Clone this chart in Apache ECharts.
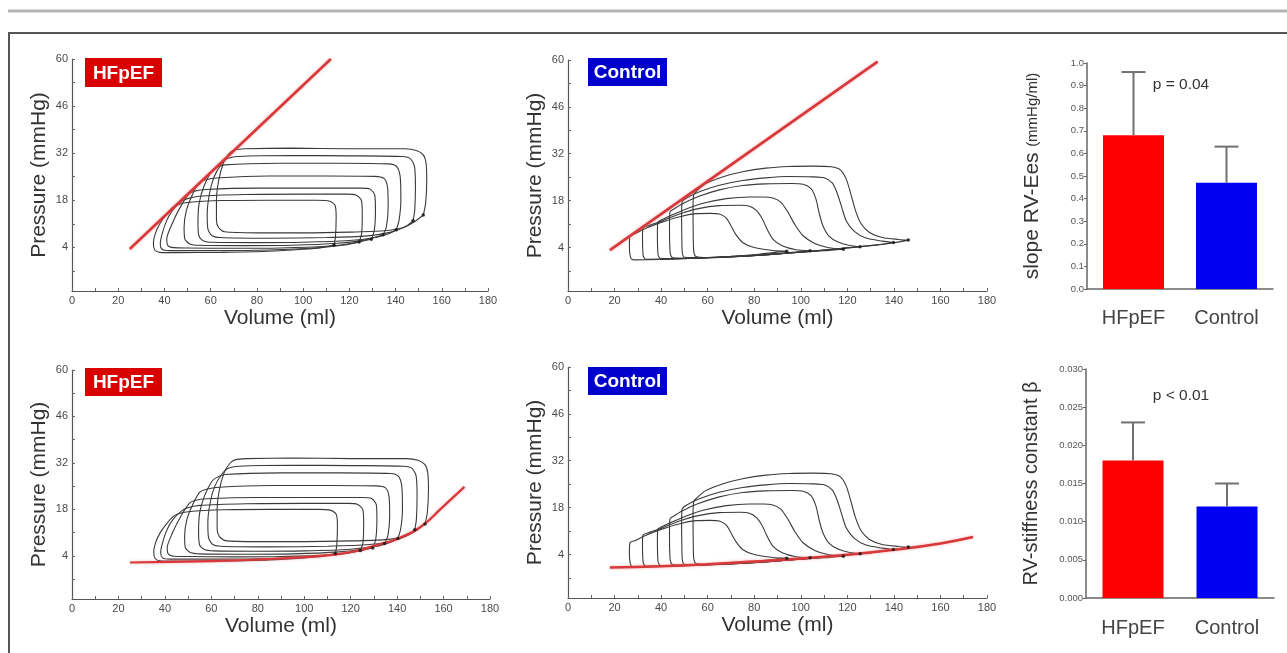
<!DOCTYPE html>
<html><head><meta charset="utf-8">
<script src="https://cdn.jsdelivr.net/npm/echarts@6/dist/echarts.min.js"></script>
<style>html,body{margin:0;padding:0;background:#fff}#c{width:1287px;height:653px}</style>
</head><body><div id="c"></div><script>
// ---------- DATA ----------
const pressureLabelValues = [4, 18, 32, 46, 60];
const pressureTickValues = [-3, 4, 11, 18, 25, 32, 39, 46, 53, 60];

// HFpEF pressure-volume loops [volume ml, pressure mmHg], starting at end-diastole
const hfpefLoop1 = [[152,13.6],[153,17],[153.5,24],[153.2,29],[152,31.5],[149,32.8],[144,33.3],[120,33.3],[95,33.5],[75,33.3],[70.5,33],[68,31.9],[65.5,29],[63.5,24],[62.5,18],[62.5,12],[63.5,9.8],[66,8.6],[80,8.3],[100,8.3],[120,8.5],[135,8.9],[143,9.8],[148,11.5],[152,13.6]];
const hfpefLoop2 = [[147.6,11.9],[148.3,15],[148.6,22],[148.2,28],[146.5,30.3],[143,31],[120,31.2],[95,31.3],[72,31],[67,30.3],[64.5,28.6],[61.5,25],[59.5,20],[58.5,14],[58.8,9.5],[60.5,7.5],[64,6.9],[85,6.7],[110,6.9],[128,7.4],[138,8.5],[144,10],[147.6,11.9]];
const hfpefLoop3 = [[140.3,9.2],[141.5,12],[142.3,18],[142,25],[140.5,28],[137,28.8],[115,29],[90,29],[66,28.5],[62,27.5],[60,26.2],[57,22],[55,17],[54.5,11],[55,7.2],[57,5.9],[61,5.5],[80,5.4],[100,5.5],[120,6],[132,7],[137,8],[140.3,9.2]];
const hfpefLoop4 = [[134.6,7.7],[136,10],[136.8,16],[136.5,22],[135,24.5],[131,25.1],[110,25.2],[85,25.2],[62,24.6],[57.5,24],[55,23.2],[52,19.5],[49.5,15],[48.5,10],[48.8,6.5],[51,5],[55,4.6],[75,4.5],[95,4.6],[115,5.2],[127,6.2],[134.6,7.7]];
const hfpefLoop5 = [[129.5,6.4],[130.8,9],[131.3,15],[131,19.5],[129,21.3],[125,21.6],[105,21.6],[80,21.6],[58,21.2],[53,20.7],[50.6,19.9],[46.5,15.5],[43,10.5],[41,6.5],[41.5,4.5],[44,3.9],[50,3.8],[70,3.7],[90,3.8],[110,4.3],[122,5.3],[129.5,6.4]];
const hfpefLoop6 = [[124.2,5.6],[125.3,8],[125.6,14],[125.2,18],[123,19.5],[119,19.8],[100,19.8],[75,19.7],[55,19.2],[49.5,18.4],[47,17.4],[43.5,15],[41,12],[39,8],[38.2,5],[39,3.4],[42,3],[48,3],[65,3],[85,3.2],[105,3.8],[118,4.7],[124.2,5.6]];
const hfpefLoop7 = [[113.4,4.7],[114,7],[114.3,13],[113.8,16.5],[111.5,17.7],[106,18],[85,18],[65,17.9],[50,17.3],[45.5,16.6],[43.5,15.8],[40.5,13.5],[38,11],[36,8],[35.2,5.2],[35.8,3.2],[38,2.5],[45,2.4],[65,2.5],[85,2.8],[100,3.4],[108,3.9],[113.4,4.7]];

// Control pressure-volume loops
const controlLoop1 = [[146.2,6.2],[142,6.4],[135,7],[129.5,8.5],[126,11],[123.5,15],[121.5,20],[119.5,24.5],[117,27.2],[113,28.1],[105,28.3],[95,28.2],[85,27.7],[75,26.6],[66,25],[59,23],[55.5,21],[54,19.8],[53.7,15],[53.8,8],[54,3],[55,1.3],[60,1],[75,1.4],[90,2.1],[105,2.9],[120,3.9],[132,4.7],[140,5.4],[146.2,6.2]];
const controlLoop2 = [[139.8,5.5],[135,5.9],[128,6.8],[123,8.8],[119.5,12],[117.5,16.2],[115.5,20.5],[113.5,23.3],[110,24.8],[105,25.1],[95,25.2],[85,24.8],[75,24],[65,22.6],[57,20.8],[51,18.8],[49,17.5],[48.8,13],[48.9,7],[49.1,2.5],[50,1.1],[60,1],[75,1.4],[90,2.1],[105,2.9],[120,3.9],[132,4.7],[139.8,5.5]];
const controlLoop3 = [[125.5,4.2],[121,4.6],[116,5.6],[112,7.5],[109.5,10.5],[108,14],[106.5,18.5],[104.5,21.5],[101,22.9],[96,23.1],[85,23],[75,22.5],[65,21.2],[56,19.2],[49,17],[45.5,15.5],[43.8,14.6],[43.6,10],[43.7,5],[44,2],[45,0.9],[55,0.8],[70,1.2],[85,1.8],[100,2.6],[112,3.3],[125.5,4.2]];
const controlLoop4 = [[118.3,3.5],[112,3.9],[106,5.2],[101,7.5],[97.5,10.8],[94.5,14.5],[91.5,17.5],[88,18.8],[84,19.1],[78,19.1],[68,18.6],[58,17.2],[50,15.3],[43,13.2],[40,12.2],[38.6,11.6],[38.4,8],[38.5,4],[38.8,1.5],[40,0.7],[55,0.8],[70,1.2],[85,1.8],[100,2.6],[110,3],[118.3,3.5]];
const controlLoop5 = [[104,3],[98,3.3],[92,4.5],[88,6.5],[85.5,9.5],[83.5,12.5],[81,15],[78,16.3],[74,16.6],[65,16.5],[56,15.6],[47,13.8],[40,11.8],[35,10.6],[32.2,9.8],[32,7],[32.1,3.5],[32.4,1.3],[33.5,0.5],[45,0.6],[60,1],[75,1.5],[90,2.2],[104,3]];
const controlLoop6 = [[94,2.9],[88,3.1],[80,4],[75,5.5],[72,8],[70,10.5],[68,12.8],[65,14],[61,14.2],[55,14.1],[48,13.2],[40,11.5],[33,9.6],[29,8.2],[26.6,7.5],[26.4,5],[26.5,2.5],[27,0.8],[28.5,0.3],[40,0.4],[55,0.8],[70,1.4],[82,2],[94,2.9]];

// End-systolic (ESPVR) and end-diastolic (EDPVR) relations
const hfpefESPVR = [[25,3.5],[112,60]];
const controlESPVR = [[18,3.2],[133,59.5]];
const hfpefEDPVR = [[25,2.0],[60,2.4],[84,3.0],[100,3.6],[112,4.3],[122,5.4],[131,7.2],[141,9.4],[151,13.2],[159,18.3],[169,24.8]];
const controlEDPVR = [[18,0.1],[40,0.5],[60,1.1],[80,1.9],[100,2.8],[120,3.9],[140,5.4],[160,7.3],[174,9.2]];

// Bar charts
const groups = ['HFpEF', 'Control'];
const groupColors = ['#ff0000', '#0000f2'];
const eesMean = [0.68, 0.47];
const eesUpper = [0.96, 0.63];
const betaMean = [0.018, 0.012];
const betaUpper = [0.023, 0.015];

const hfpefLoops = [hfpefLoop1, hfpefLoop2, hfpefLoop3, hfpefLoop4, hfpefLoop5, hfpefLoop6, hfpefLoop7];
const controlLoops = [controlLoop1, controlLoop2, controlLoop3, controlLoop4, controlLoop5, controlLoop6];

// ---------- CHART ----------
const FONT = 'Liberation Sans, Arial, sans-serif';
const chart = echarts.init(document.getElementById('c'), null, {renderer: 'canvas'});

const grids = [
  {left: 72, top: 59, width: 416, height: 232},
  {left: 568, top: 60, width: 419, height: 231},
  {left: 1087, top: 63, width: 186, height: 226},
  {left: 72, top: 370, width: 418, height: 229},
  {left: 568, top: 367, width: 419, height: 231},
  {left: 1086, top: 369, width: 188, height: 229}
];

function pvX(gi) {
  return {
    type: 'value', gridIndex: gi, min: 0, max: 180, interval: 10,
    name: 'Volume (ml)', nameLocation: 'middle', nameGap: 17,
    nameTextStyle: {fontSize: 21, color: '#333', fontFamily: FONT},
    axisLine: {onZero: false, lineStyle: {color: '#555', width: 1.2}},
    axisTick: {inside: true, length: 3, lineStyle: {color: '#666'}},
    axisLabel: {fontSize: 11, color: '#4a4a4a', fontFamily: FONT, margin: 4,
      formatter: v => (v % 20 === 0 ? String(v) : '')},
    splitLine: {show: false}
  };
}
function pvY(gi) {
  return {
    type: 'value', gridIndex: gi, min: -9, max: 60,
    name: 'Pressure (mmHg)', nameLocation: 'middle', nameGap: 22,
    nameTextStyle: {fontSize: 21, color: '#333', fontFamily: FONT},
    axisLine: {show: true, onZero: false, lineStyle: {color: '#555', width: 1.2}},
    axisTick: {show: true, inside: true, length: 3, lineStyle: {color: '#666'}, customValues: pressureTickValues},
    axisLabel: {fontSize: 11, color: '#4a4a4a', fontFamily: FONT, margin: 4, customValues: pressureLabelValues},
    splitLine: {show: false}
  };
}
function barX(gi, margin) {
  return {
    type: 'category', gridIndex: gi, data: groups,
    axisLine: {lineStyle: {color: '#666', width: 1.5}},
    axisTick: {alignWithLabel: true, length: 4, lineStyle: {color: '#666'}},
    axisLabel: {fontSize: 20, color: '#444', fontFamily: FONT, margin: margin}
  };
}
function barY(gi, max, interval, digits, name, gap) {
  return {
    type: 'value', gridIndex: gi, min: 0, max: max, interval: interval,
    name: name, nameLocation: 'middle', nameGap: gap,
    nameTextStyle: {fontSize: 20, color: '#333', fontFamily: FONT,
      rich: {a: {fontSize: 21, color: '#333', fontFamily: FONT}, b: {fontSize: 15, color: '#333', fontFamily: FONT}}},
    axisLine: {show: true, lineStyle: {color: '#666', width: 1.5}},
    axisTick: {show: true, length: 3, lineStyle: {color: '#666'}},
    axisLabel: {fontSize: 9.5, color: '#555', fontFamily: FONT, margin: 3, formatter: v => v.toFixed(digits)},
    splitLine: {show: false}
  };
}

const series = [];
function addLoops(loops, xi) {
  loops.forEach(loop => series.push({
    type: 'line', xAxisIndex: xi, yAxisIndex: xi, data: loop, showSymbol: false, smooth: 0.25,
    lineStyle: {color: '#3a3a3a', width: 1.1}, z: 2, silent: true
  }));
  series.push({
    type: 'scatter', xAxisIndex: xi, yAxisIndex: xi, data: loops.map(l => l[0]),
    symbolSize: 3.5, itemStyle: {color: '#111'}, z: 5, silent: true
  });
}
function addRed(data, xi, smooth, width) {
  series.push({
    type: 'line', xAxisIndex: xi, yAxisIndex: xi, data: data, showSymbol: false, smooth: smooth,
    lineStyle: {color: '#d8383a', width: width, shadowColor: 'rgba(235,120,120,0.6)', shadowBlur: 3}, z: 4, silent: true
  });
}
addLoops(hfpefLoops, 0); addRed(hfpefESPVR, 0, false, 2.6);
addLoops(controlLoops, 1); addRed(controlESPVR, 1, false, 2.6);
addLoops(hfpefLoops, 3); addRed(hfpefEDPVR, 3, true, 2.2);
addLoops(controlLoops, 4); addRed(controlEDPVR, 4, true, 2.6);

function errorRender(params, api) {
  const lo = api.coord([api.value(0), api.value(1)]);
  const hi = api.coord([api.value(0), api.value(2)]);
  const st = {stroke: '#707070', lineWidth: 2};
  return {type: 'group', children: [
    {type: 'line', shape: {x1: lo[0], y1: lo[1], x2: hi[0], y2: hi[1]}, style: st},
    {type: 'line', shape: {x1: hi[0] - 12, y1: hi[1], x2: hi[0] + 12, y2: hi[1]}, style: st}
  ]};
}
function addBars(means, uppers, xi) {
  series.push({
    type: 'bar', xAxisIndex: xi, yAxisIndex: xi, barWidth: 61,
    data: means.map((v, i) => ({value: v, itemStyle: {color: groupColors[i]}})), z: 2
  });
  series.push({
    type: 'custom', xAxisIndex: xi, yAxisIndex: xi, renderItem: errorRender,
    data: means.map((v, i) => [i, v, uppers[i]]), z: 3
  });
}
addBars(eesMean, eesUpper, 2);
addBars(betaMean, betaUpper, 5);

function tag(x, y, w, h, label, color) {
  return {type: 'group', children: [
    {type: 'rect', shape: {x: x, y: y, width: w, height: h}, style: {fill: color}},
    {type: 'text', x: x + w / 2, y: y + h / 2 + 1, style: {text: label, fill: '#fff', font: 'bold 19px ' + FONT, align: 'center', verticalAlign: 'middle'}}
  ]};
}

chart.setOption({
  animation: false,
  backgroundColor: '#fff',
  grid: grids,
  xAxis: [pvX(0), pvX(1), barX(2, 19), pvX(3), pvX(4), barX(5, 20)],
  yAxis: [pvY(0), pvY(1),
    barY(2, 1, 0.1, 1, '{a|slope RV-Ees} {b|(mmHg/ml)}', 44),
    pvY(3), pvY(4),
    barY(5, 0.03, 0.005, 3, 'RV-stiffness constant β', 45)],
  series: series,
  graphic: [
    {type: 'line', shape: {x1: 8, y1: 11, x2: 1287, y2: 11}, style: {stroke: '#b4b4b4', lineWidth: 3}},
    {type: 'polyline', shape: {points: [[9, 653], [9, 33], [1287, 33]]}, style: {stroke: '#555', lineWidth: 2, fill: null}},
    tag(85, 58, 77, 29, 'HFpEF', '#d90000'),
    tag(588, 58, 79, 28, 'Control', '#0000cc'),
    tag(85, 368, 77, 28, 'HFpEF', '#d90000'),
    tag(588, 367, 79, 28, 'Control', '#0000cc'),
    {type: 'text', x: 1181, y: 85, style: {text: 'p = 0.04', fill: '#333', font: '15.5px ' + FONT, align: 'center', verticalAlign: 'middle'}},
    {type: 'text', x: 1181, y: 396, style: {text: 'p < 0.01', fill: '#333', font: '15.5px ' + FONT, align: 'center', verticalAlign: 'middle'}}
  ]
});
</script></body></html>
